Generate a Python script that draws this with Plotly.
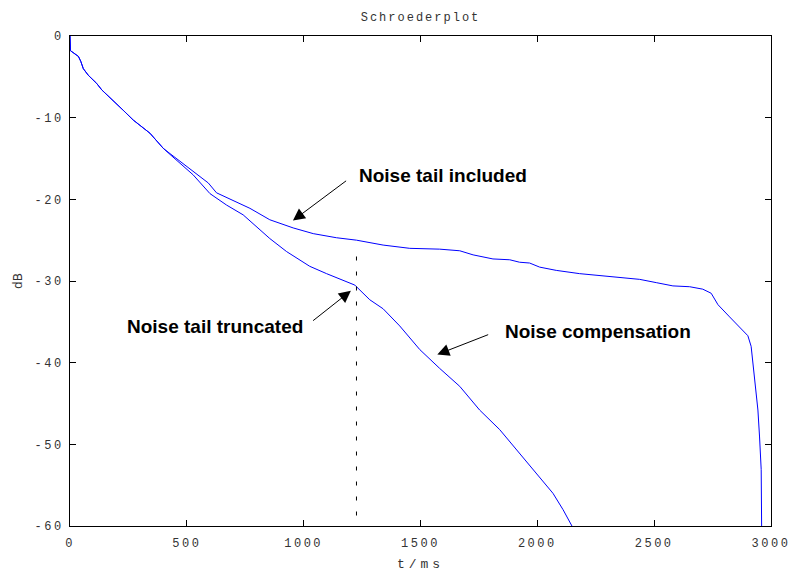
import plotly.graph_objects as go

# --- data ---
t_included = [0, 2, 36, 46, 57, 78, 114, 136, 228, 271,
              342, 399, 428, 535, 592, 627, 699, 770, 855, 955,
              1041, 1140, 1226, 1340, 1454, 1582, 1668, 1725, 1810, 1882,
              1924, 1967, 2010, 2081, 2181, 2252, 2352, 2438, 2509, 2580,
              2652, 2708, 2744, 2758, 2773, 2823, 2865, 2901, 2915, 2922,
              2934, 2944, 2951, 2958, 2960]
db_included = [0, -1.8, -2.5, -3.1, -4.0, -4.8, -5.8, -6.6, -9.1, -10.3,
               -11.9, -13.75, -14.4, -16.8, -18.0, -19.2, -20.2, -21.1, -22.5, -23.5,
               -24.2, -24.7, -25.0, -25.6, -26.0, -26.1, -26.3, -26.8, -27.3, -27.4,
               -27.7, -27.8, -28.3, -28.7, -29.1, -29.3, -29.6, -29.8, -30.2, -30.6,
               -30.7, -31.0, -31.5, -32.1, -32.9, -34.4, -35.7, -36.7, -38.0, -40.1,
               -42.9, -45.8, -49.1, -53.1, -60.5]

t_compensated = [0, 2, 36, 46, 57, 78, 114, 136, 228, 271,
                 342, 399, 428, 527, 599, 670, 741, 855, 927, 970,
                 1026, 1098, 1169, 1219, 1226, 1283, 1340, 1411, 1497, 1582,
                 1668, 1753, 1839, 1925, 2010, 2067, 2110, 2150]
db_compensated = [0, -1.8, -2.5, -3.1, -4.0, -4.8, -5.8, -6.6, -9.1, -10.3,
                  -11.9, -13.75, -14.5, -17.0, -19.3, -20.7, -21.9, -24.8, -26.4, -27.2,
                  -28.2, -29.1, -29.9, -30.5, -30.7, -32.3, -33.4, -35.5, -38.4, -40.7,
                  -42.9, -45.8, -48.2, -51.1, -54.0, -56.0, -58.0, -60.1]

t_truncation = [1226, 1226]
db_truncation = [-27.0, -60.0]

x_ticks = [0, 500, 1000, 1500, 2000, 2500, 3000]
y_ticks = [0, -10, -20, -30, -40, -50, -60]

# annotations: text position (left edge, middle) and arrow head / tail
labels = ["Noise tail included", "Noise tail truncated", "Noise compensation"]
label_x = [1227, 235, 1852]
label_y = [-17.1, -35.6, -36.2]
head_x = [954, 1202, 1572]
head_y = [-22.6, -31.2, -39.0]
tail_x = [1188, 1034, 1796]
tail_y = [-17.6, -35.0, -36.5]

BLUE = "#0000ff"
MONO = "Liberation Mono, DejaVu Sans Mono, monospace"

fig = go.Figure()
fig.add_trace(go.Scatter(x=t_included, y=db_included, mode="lines",
                         line=dict(color=BLUE, width=1), showlegend=False))
fig.add_trace(go.Scatter(x=t_compensated, y=db_compensated, mode="lines",
                         line=dict(color=BLUE, width=1), showlegend=False))
fig.add_trace(go.Scatter(x=t_truncation, y=db_truncation, mode="lines",
                         line=dict(color="black", width=1, dash="4px,11px"),
                         showlegend=False))

annotations = []
for i in range(len(labels)):
    annotations.append(dict(
        x=label_x[i], y=label_y[i], xref="x", yref="y", text=labels[i],
        showarrow=False, xanchor="left", yanchor="middle",
        font=dict(family="Liberation Sans, Arial, sans-serif",
                  size=19, color="black", weight="bold")))
    annotations.append(dict(
        x=head_x[i], y=head_y[i], xref="x", yref="y", text="",
        showarrow=True, ax=tail_x[i], ay=tail_y[i], axref="x", ayref="y",
        arrowhead=2, arrowsize=2.4, arrowwidth=1, arrowcolor="black",
        standoff=0, startstandoff=0))

axis_common = dict(
    showgrid=False, zeroline=False, showline=True, linecolor="black",
    linewidth=1, mirror="ticks", ticks="inside", ticklen=6, tickcolor="black",
    tickfont=dict(family=MONO, size=12, color="#333333"),
)

fig.update_layout(
    width=789, height=572,
    margin=dict(l=70, r=18, t=36, b=46),
    paper_bgcolor="white", plot_bgcolor="white",
    title=dict(text="Schroederplot", x=0.5, xref="paper", xanchor="center",
               y=0.97, yanchor="middle",
               font=dict(family=MONO, size=12, color="#333333")),
    xaxis=dict(range=[0, 3000], tickvals=x_ticks, ticktext=[str(v) for v in x_ticks],
               ticklabelstandoff=6,
               title=dict(text="t/ms", standoff=9,
                          font=dict(family=MONO, size=13, color="#333333")),
               automargin=False, **axis_common),
    yaxis=dict(range=[-60, 0], tickvals=y_ticks, ticktext=[str(v) for v in y_ticks],
               ticklabelstandoff=3,
               title=dict(text="dB", standoff=16,
                          font=dict(family="DejaVu Sans, sans-serif", size=12, color="#333333")),
               automargin=False, **axis_common),
    annotations=annotations,
)

post = """
document.body.style.margin = '0';
document.body.style.overflow = 'hidden';
var gd = document.querySelector('.plotly-graph-div');
gd.querySelectorAll('.xtick text, .ytick text').forEach(function(e){ e.style.letterSpacing='2.5px'; });
gd.querySelectorAll('.gtitle').forEach(function(e){ e.style.letterSpacing='2px'; });
gd.querySelectorAll('.g-xtitle text').forEach(function(e){ e.style.letterSpacing='4px'; });
"""

fig.write_html("out.html", post_script=post, config={"displayModeBar": False})
